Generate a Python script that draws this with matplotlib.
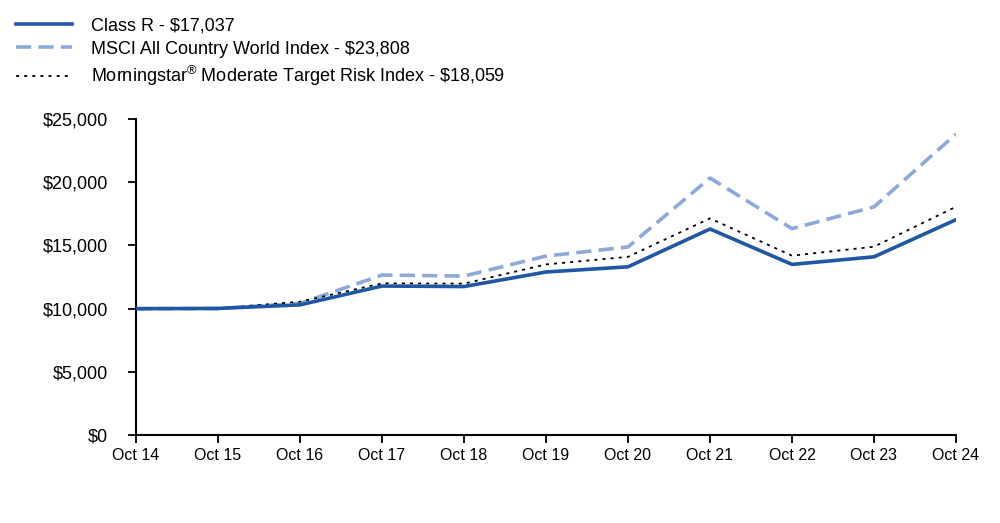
"""Growth of a $10,000 investment: Class R vs. benchmark indices."""

import matplotlib.pyplot as plt
from matplotlib.ticker import FuncFormatter

plt.rcParams['font.family'] = ['Liberation Sans', 'DejaVu Sans']
plt.rcParams['mathtext.fontset'] = 'custom'
plt.rcParams['mathtext.rm'] = 'Liberation Sans'

years = ['Oct 14', 'Oct 15', 'Oct 16', 'Oct 17', 'Oct 18', 'Oct 19',
         'Oct 20', 'Oct 21', 'Oct 22', 'Oct 23', 'Oct 24']
class_r = [10000, 10020, 10300, 11790, 11750, 12900, 13310, 16300, 13500, 14100, 17037]
msci_acwi = [10000, 10010, 10420, 12660, 12580, 14160, 14880, 20330, 16330, 18050, 23808]
morningstar = [10000, 10030, 10550, 12000, 11980, 13500, 14100, 17140, 14190, 14900, 18059]

labels = [
    'Class R - $17,037',
    'MSCI All Country World Index - $23,808',
    'Morningstar$^{\\mathrm{\u00ae}}$ Moderate Target Risk Index - \\$18,059',
]

fig = plt.figure(figsize=(10, 5.23), dpi=100)
ax = fig.add_axes([0.136, 0.168, 0.82, 0.6045])

x = range(len(years))
ax.plot(x, class_r, color='#1f57a5', linewidth=2.6, label=labels[0], zorder=3)
ax.plot(x, msci_acwi, color='#8eaad8', linewidth=2.6, dashes=(4.2, 2.0), label=labels[1], zorder=2)
ax.plot(x, morningstar, color='black', linewidth=1.3, dashes=(1.7, 2.8), label=labels[2], zorder=2)

ax.set_xlim(0, len(years) - 1)
ax.set_ylim(0, 25000)
ax.set_yticks(range(0, 25001, 5000))
ax.yaxis.set_major_formatter(FuncFormatter(lambda v, _: f'${v:,.0f}'))
ax.set_xticks(list(x))
ax.set_xticklabels(years)

for side in ('top', 'right'):
    ax.spines[side].set_visible(False)
for side in ('left', 'bottom'):
    ax.spines[side].set_linewidth(1.5)
    ax.spines[side].set_color('black')

ax.tick_params(axis='y', labelsize=13, length=6, width=1.3, pad=14)
ax.tick_params(axis='x', labelsize=11.5, length=6, width=1.3, pad=3)

fig.legend(loc='upper left', bbox_to_anchor=(0.005, 0.987), frameon=False,
           fontsize=13, handlelength=3.1, handletextpad=1.05, labelspacing=0.34,
           borderaxespad=0.2)

fig.savefig('out.png', dpi=100)
